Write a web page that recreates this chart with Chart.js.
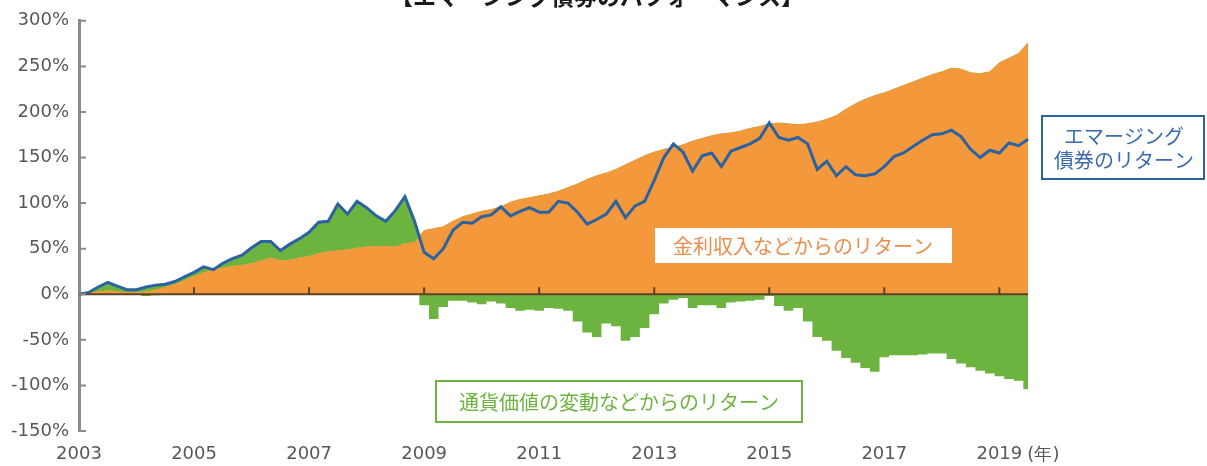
<!DOCTYPE html>
<html lang="ja">
<head>
<meta charset="utf-8">
<title>エマージング債券のパフォーマンス</title>
<script src="https://cdn.jsdelivr.net/npm/chart.js@4.4.1/dist/chart.umd.min.js"></script>
<style>
    html, body { margin: 0; padding: 0; background: #fff; }
    #wrap { width: 1207px; height: 466px; }
</style>
</head>
<body>
<div id="wrap"><canvas id="perf-chart" width="1207" height="466"></canvas></div>
<script>
// 2ヶ月ごとの累積リターン (%), 2003年1月〜2019年7月
const startYear = 2003;
const stepPerYear = 6;

// エマージング債券のリターン (青線)
const totalReturn = [
    0, 2, 8, 13, 9, 5, 5, 8, 10, 11, 14, 19,
    24, 30, 27, 34, 39, 43, 51, 58, 58, 48, 55, 61,
    68, 79, 80, 99, 88, 102, 95, 86, 80, 92, 107, 80,
    46, 39, 50, 70, 79, 78, 85, 87, 96, 86, 91, 95,
    90, 90, 102, 100, 90, 77, 82, 88, 102, 84, 97, 102,
    125, 150, 165, 156, 135, 152, 155, 140, 157, 161, 165, 171,
    188, 172, 169, 172, 165, 137, 146, 130, 140, 131, 130, 132,
    140, 151, 155, 162, 169, 175, 176, 180, 173, 159, 150, 158,
    155, 166, 163, 170
];

// 金利収入などからのリターン (オレンジ)
const incomeReturn = [
    0, 1, 3, 4, 3, 2, 2, 3, 5, 8, 11, 15,
    20, 24, 27, 29, 31, 32, 34, 37, 40, 37, 38, 40,
    42, 45, 47, 48, 49, 51, 52, 53, 53, 52, 56, 57,
    70, 72, 74, 80, 85, 88, 91, 93, 96, 101, 104, 106,
    108, 110, 113, 117, 121, 126, 130, 133, 137, 142, 147, 152,
    156, 159, 161, 164, 168, 171, 174, 176, 177, 179, 182, 184,
    187, 188, 187, 186, 187, 189, 192, 196, 203, 209, 214, 218,
    221, 225, 229, 233, 237, 241, 244, 248, 247, 243, 242, 244,
    254, 259, 264, 276
];

// 通貨価値の変動などからのリターン (グリーン)
const currencyReturn = [
    0, 1, 5, 9, 6, 3, 3, -2, -1, 3, 3, 4,
    4, 6, 0, 5, 8, 11, 17, 21, 18, 11, 17, 21,
    26, 34, 33, 51, 39, 51, 43, 33, 27, 40, 51, 23,
    -12, -27, -14, -7, -7, -9, -11, -8, -10, -15, -18, -17,
    -18, -15, -16, -18, -30, -42, -47, -32, -35, -51, -47, -37,
    -22, -10, -6, -4, -15, -12, -12, -15, -9, -8, -7, -6,
    -2, -13, -18, -15, -30, -47, -51, -62, -70, -75, -81, -85,
    -69, -67, -67, -67, -66, -65, -65, -71, -76, -80, -84, -87,
    -90, -93, -95, -104
];

const yearTicks = [2003, 2005, 2007, 2009, 2011, 2013, 2015, 2017, 2019];

const titleText = '【エマージング債券のパフォーマンス】';
const incomeLabel = '金利収入などからのリターン';
const currencyLabel = '通貨価値の変動などからのリターン';
const bondLabel = ['エマージング', '債券のリターン'];
const yearUnit = '(年)';

const COLORS = {
    orange: '#f3993b',
    green: '#6cb43f',
    blue: '#2b62a0',
    zero: '#5c4325',
    axis: '#8a8a8a',
    text: '#585858',
};

const dates = totalReturn.map((_, i) => startYear + i / stepPerYear);
const toPoints = (values) => values.map((v, i) => ({ x: dates[i], y: v }));

const overlay = {
    id: 'overlay',
    afterDatasetsDraw(chart) {
        const { ctx, chartArea, scales: { x, y } } = chart;
        const zeroY = y.getPixelForValue(0);
        const endX = x.getPixelForValue(dates[dates.length - 1]);
        ctx.save();

        // zero line + year ticks
        ctx.strokeStyle = COLORS.zero;
        ctx.lineWidth = 2;
        ctx.beginPath();
        ctx.moveTo(chartArea.left, zeroY);
        ctx.lineTo(endX, zeroY);
        yearTicks.slice(1).forEach(v => {
            const px = x.getPixelForValue(v);
            ctx.moveTo(px, zeroY);
            ctx.lineTo(px, zeroY - 7);
        });
        ctx.stroke();

        // inner ticks on the y axis
        ctx.strokeStyle = COLORS.axis;
        ctx.beginPath();
        y.ticks.forEach(t => {
            const py = y.getPixelForValue(t.value);
            ctx.moveTo(chartArea.left, py);
            ctx.lineTo(chartArea.left + 7, py);
        });
        ctx.stroke();
        ctx.restore();
    },
    afterDraw(chart) {
        const { ctx, scales: { x } } = chart;
        ctx.save();
        ctx.textAlign = 'center';

        // title (cut at the top edge)
        ctx.font = 'bold 23px "Noto Sans CJK JP"';
        ctx.fillStyle = '#1a1a1a';
        ctx.textBaseline = 'alphabetic';
        ctx.fillText(titleText, 597, 5);
        ctx.textBaseline = 'middle';

        ctx.font = '20px "Noto Sans CJK JP"';

        // income label
        ctx.fillStyle = '#fff';
        ctx.fillRect(655, 228, 297, 35);
        ctx.fillStyle = '#ec8d4c';
        ctx.fillText(incomeLabel, 803, 246);

        // currency label
        ctx.fillStyle = '#fff';
        ctx.fillRect(435, 380, 368, 43);
        ctx.strokeStyle = COLORS.green;
        ctx.lineWidth = 2;
        ctx.strokeRect(436, 381, 366, 41);
        ctx.fillStyle = COLORS.green;
        ctx.fillText(currencyLabel, 619, 402);

        // bond return label
        ctx.fillStyle = '#fff';
        ctx.fillRect(1041, 115, 164, 65);
        ctx.strokeStyle = COLORS.blue;
        ctx.strokeRect(1042, 116, 162, 63);
        ctx.fillStyle = '#3a6cab';
        ctx.fillText(bondLabel[0], 1124, 136);
        ctx.fillText(bondLabel[1], 1124, 160);

        // year unit next to the last tick label
        ctx.font = '18px "DejaVu Sans"';
        ctx.fillStyle = COLORS.text;
        ctx.textAlign = 'left';
        ctx.fillText(yearUnit, x.getPixelForValue(2019) + 28, 455);
        ctx.restore();
    }
};

const PerfChart = {
    chart: null,

    init() {
        const ctx = document.getElementById('perf-chart').getContext('2d');
        this.chart = new Chart(ctx, {
            type: 'line',
            data: {
                datasets: [
                    {
                        label: incomeLabel,
                        data: toPoints(incomeReturn),
                        borderColor: COLORS.orange,
                        borderWidth: 1,
                        backgroundColor: COLORS.orange,
                        fill: 'origin',
                        pointRadius: 0,
                        order: 2,
                    },
                    {
                        label: bondLabel.join(''),
                        data: toPoints(totalReturn),
                        borderColor: COLORS.blue,
                        borderWidth: 3,
                        backgroundColor: COLORS.green,
                        fill: { target: '-1', above: COLORS.green, below: 'rgba(0,0,0,0)' },
                        pointRadius: 0,
                        order: 0,
                    },
                    {
                        label: currencyLabel,
                        data: toPoints(currencyReturn),
                        borderColor: 'rgba(0,0,0,0)',
                        borderWidth: 0,
                        backgroundColor: COLORS.green,
                        fill: { target: 'origin', above: 'rgba(0,0,0,0)', below: COLORS.green },
                        stepped: 'middle',
                        pointRadius: 0,
                        order: 3,
                    },
                ]
            },
            options: {
                responsive: false,
                animation: false,
                devicePixelRatio: 1,
                layout: { padding: { top: 16, right: 176, left: 0, bottom: 0 } },
                plugins: {
                    legend: { display: false },
                    tooltip: { enabled: false },
                },
                scales: {
                    x: {
                        type: 'linear',
                        min: startYear,
                        max: 2019.55,
                        afterBuildTicks: (s) => { s.ticks = yearTicks.map(v => ({ value: v })); },
                        afterFit: (s) => { s.height = 35; },
                        grid: { display: false, drawTicks: false },
                        border: { display: false },
                        ticks: {
                            padding: 13,
                            color: COLORS.text,
                            font: { family: 'DejaVu Sans', size: 18 },
                            maxRotation: 0,
                            autoSkip: false,
                            callback: (v) => String(v),
                        }
                    },
                    y: {
                        min: -150,
                        max: 300,
                        afterFit: (s) => { s.width = 79; },
                        grid: { display: false, drawTicks: false },
                        border: { display: true, color: COLORS.axis, width: 3 },
                        ticks: {
                            stepSize: 50,
                            padding: 10,
                            color: COLORS.text,
                            font: { family: 'DejaVu Sans', size: 18 },
                            callback: (v) => v + '%',
                        }
                    }
                }
            },
            plugins: [overlay]
        });
    }
};

PerfChart.init();
</script>
</body>
</html>
